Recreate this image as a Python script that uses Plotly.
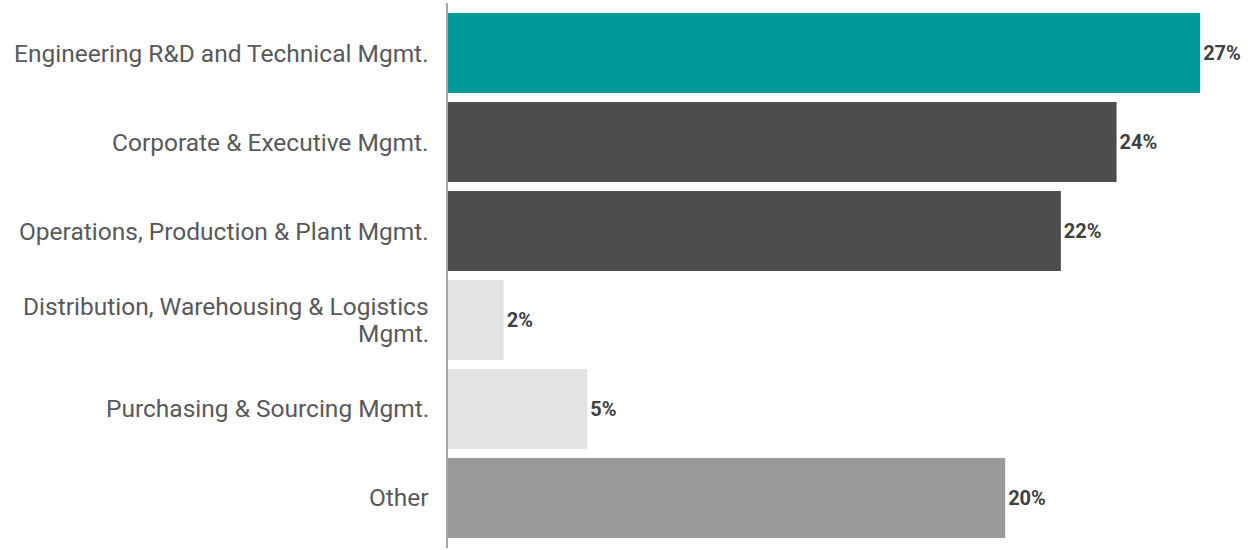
import plotly.graph_objects as go

# Job function categories, top to bottom
categories = [
    "Engineering R&D and Technical Mgmt.",
    "Corporate & Executive Mgmt.",
    "Operations, Production & Plant Mgmt.",
    "Distribution, Warehousing & Logistics<br>Mgmt.",
    "Purchasing & Sourcing Mgmt.",
    "Other",
]
shares = [27, 24, 22, 2, 5, 20]
bar_colors = ["#009999", "#4d4d4d", "#4d4d4d", "#e3e3e3", "#e3e3e3", "#999999"]
value_labels = [f"{v}%" for v in shares]

LABEL_FONT = dict(family="Roboto", size=24.5, color="#595959")
LINE_STEP = 27  # px between lines of a wrapped category label

fig = go.Figure(
    go.Bar(
        y=categories,
        x=shares,
        orientation="h",
        marker=dict(color=bar_colors, line=dict(width=0)),
        text=value_labels,
        textposition="outside",
        textfont=dict(family="Roboto", size=20, color="#404040", weight="bold"),
        cliponaxis=False,
        hoverinfo="skip",
    )
)

# Category labels drawn as annotations so wrapped lines sit tightly together
for cat in categories:
    lines = cat.split("<br>")
    n = len(lines)
    for i, line in enumerate(lines):
        fig.add_annotation(
            xref="paper",
            x=0,
            yref="y",
            y=cat,
            text=line,
            showarrow=False,
            xanchor="right",
            yanchor="middle",
            xshift=-17,
            yshift=((n - 1) / 2 - i) * LINE_STEP,
            font=LABEL_FONT,
        )

fig.update_layout(
    width=1250,
    height=550,
    margin=dict(l=448, r=22, t=3, b=2),
    plot_bgcolor="white",
    paper_bgcolor="white",
    bargap=0.1,
    showlegend=False,
    font=LABEL_FONT,
)

fig.update_xaxes(range=[0, 28], visible=False)

fig.update_yaxes(
    autorange=False,
    range=[5.562, -0.562],
    showline=True,
    linecolor="#a6a6a6",
    linewidth=2,
    showgrid=False,
    zeroline=False,
    ticks="",
    showticklabels=False,
)

fig.write_html("out.html")
